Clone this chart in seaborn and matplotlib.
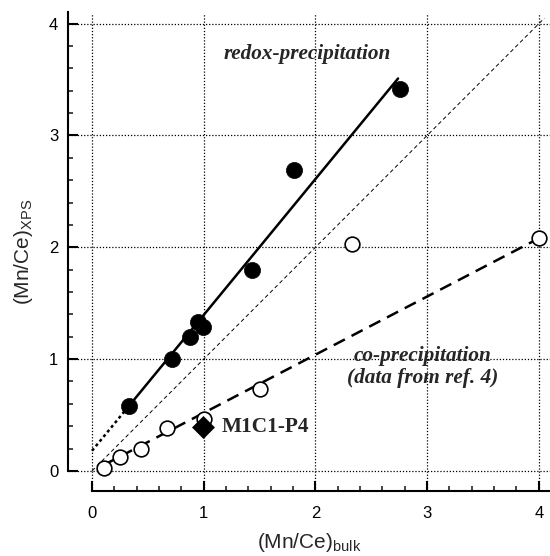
import matplotlib
matplotlib.use("Agg")
import matplotlib.pyplot as plt
import seaborn as sns
import numpy as np
import pandas as pd
from matplotlib.ticker import FixedLocator

# ---- data ----
redox_bulk = [0.33, 0.715, 0.88, 0.95, 0.995, 1.43, 1.81, 2.76]
redox_xps = [0.58, 1.00, 1.20, 1.33, 1.29, 1.80, 2.69, 3.42]

coprec_bulk = [0.11, 0.25, 0.44, 0.67, 1.00, 1.50, 2.33, 4.00]
coprec_xps = [0.03, 0.12, 0.20, 0.38, 0.46, 0.73, 2.03, 2.08]

m1c1_bulk = [0.99]
m1c1_xps = [0.39]

redox_fit_x = [0.33, 2.74]
redox_fit_y = [0.58, 3.51]
redox_ext_x = [0.0, 0.33]
redox_ext_y = [0.18, 0.58]
coprec_fit_x = [0.10, 4.00]
coprec_fit_y = [0.05, 2.08]
diag_x = [0.0, 4.05]
diag_y = [0.0, 4.05]

xticks = [0, 1, 2, 3, 4]
yticks = [0, 1, 2, 3, 4]
minor_ticks = [0.2, 0.4, 0.6, 0.8, 1.2, 1.4, 1.6, 1.8, 2.2, 2.4, 2.6, 2.8,
               3.2, 3.4, 3.6, 3.8, 4.0]

sns.set_style("white")
plt.rcParams["font.family"] = ["Liberation Sans", "DejaVu Sans"]
plt.rcParams["mathtext.default"] = "regular"

fig = plt.figure(figsize=(5.5, 5.56), dpi=100)
ax = fig.add_axes([68 / 550, 1 - 491 / 556, 482 / 550, 478.5 / 556])

ax.set_xlim(-0.215, 4.1)
ax.set_ylim(-0.18, 4.1)
ax.xaxis.set_major_locator(FixedLocator(xticks))
ax.yaxis.set_major_locator(FixedLocator(yticks))
ax.xaxis.set_minor_locator(FixedLocator(minor_ticks))
ax.yaxis.set_minor_locator(FixedLocator(minor_ticks))
ax.grid(True, which="major", color="black", linestyle=(0, (1, 1.5)), linewidth=0.9)
ax.set_axisbelow(True)

# lines
sns.lineplot(x=diag_x, y=diag_y, ax=ax, color="black", linewidth=0.7,
             linestyle=(0, (4, 3)), sort=False)
sns.lineplot(x=redox_fit_x, y=redox_fit_y, ax=ax, color="black", linewidth=1.8, sort=False)
sns.lineplot(x=redox_ext_x, y=redox_ext_y, ax=ax, color="black", linewidth=1.8,
             linestyle=(0, (1.2, 1.2)), sort=False)
sns.lineplot(x=coprec_fit_x, y=coprec_fit_y, ax=ax, color="black", linewidth=1.8,
             linestyle=(0, (5, 3)), sort=False)

# points
sns.scatterplot(x=coprec_bulk, y=coprec_xps, ax=ax, marker="o", s=112,
                facecolor="white", edgecolor="black", linewidth=1.2, zorder=5)
sns.scatterplot(x=redox_bulk, y=redox_xps, ax=ax, marker="o", s=135,
                color="black", edgecolor="black", linewidth=0.5, zorder=6)
sns.scatterplot(x=m1c1_bulk, y=m1c1_xps, ax=ax, marker="D", s=125,
                color="black", edgecolor="black", linewidth=0.5, zorder=7)

# annotations
serif = ["Liberation Serif", "DejaVu Serif"]
ax.text(1.93, 3.73, "redox-precipitation", family=serif, style="italic",
        weight="bold", fontsize=15.3, ha="center", va="center")
ax.text(2.96, 0.93, "co-precipitation\n(data from ref. 4)", family=serif, style="italic",
        weight="bold", fontsize=15.3, ha="center", va="center", linespacing=1.15)
ax.text(1.16, 0.39, "M1C1-P4", family=serif, weight="bold", fontsize=15.3,
        ha="left", va="center")

# axes styling
for s in ["top", "right"]:
    ax.spines[s].set_visible(False)
ax.spines["left"].set_bounds(0, 4.1)
ax.spines["bottom"].set_bounds(0, 4.1)
for s in ["left", "bottom"]:
    ax.spines[s].set_linewidth(1.5)
    ax.spines[s].set_color("black")

ax.set_xticklabels([str(t) for t in xticks])
ax.set_yticklabels([str(t) for t in yticks])
ax.tick_params(which="major", direction="in", length=7, width=1.5, labelsize=12,
               colors="black", left=True, bottom=True)
ax.tick_params(axis="x", which="major", pad=11)
ax.tick_params(axis="y", which="major", pad=7)
ax.tick_params(which="minor", direction="in", length=3.5, width=1.2, left=True, bottom=True)

ax.set_xlabel("(Mn/Ce)$_{bulk}$", fontsize=15, labelpad=7)
ax.set_ylabel("(Mn/Ce)$_{XPS}$", fontsize=15, labelpad=10)

fig.savefig("out.png", dpi=100)
